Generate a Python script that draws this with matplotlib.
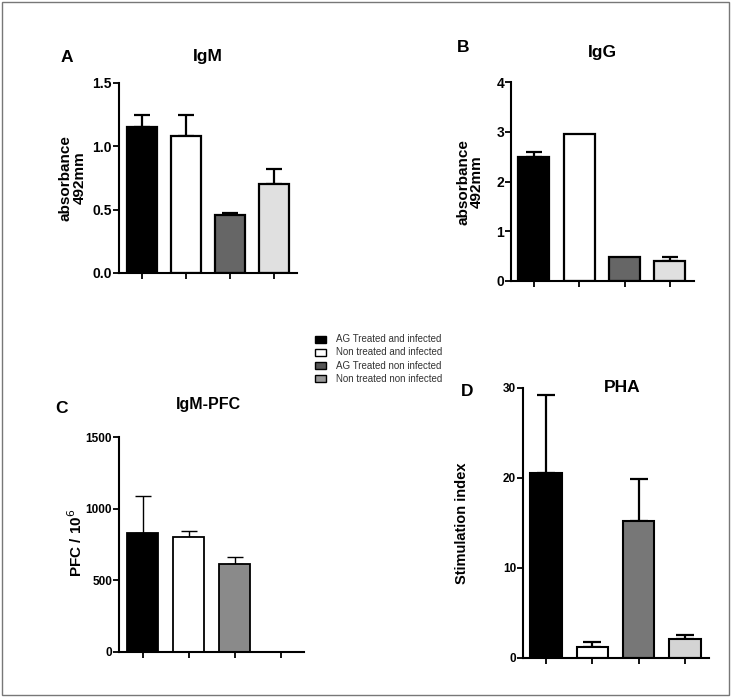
import matplotlib.pyplot as plt
import numpy as np
from matplotlib.patches import Rectangle

plt.rcParams['font.family'] = ['Liberation Sans', 'DejaVu Sans']

groups = ['AG Treated and infected', 'Non treated and infected',
          'AG Treated non infected', 'Non treated non infected']
legend_colors = ['#000000', '#ffffff', '#555555', '#999999']

# panel A - IgM
igm_mean = [1.15, 1.08, 0.46, 0.70]
igm_err = [0.095, 0.17, 0.012, 0.12]
# panel B - IgG
igg_mean = [2.50, 2.96, 0.49, 0.40]
igg_err = [0.10, 0.0, 0.0, 0.08]
# panel C - IgM-PFC (no value for last group)
pfc_mean = [830, 802, 614, None]
pfc_err = [260, 42, 50, None]
# panel D - PHA
pha_mean = [20.6, 1.2, 15.2, 2.1]
pha_err = [8.6, 0.6, 4.7, 0.5]

W, H = 732, 698
fig = plt.figure(figsize=(W / 100, H / 100), dpi=100)


def box(x0, y0, x1, y1):
    # pixel box -> figure fraction
    return [x0 / W, 1 - y1 / H, (x1 - x0) / W, (y1 - y0) / H]


def panel(rect, means, errs, colors, ylim, yticks, yticklabels, xlim,
          lw=1.6, elw=1.6, cap=5.5, tsize=10):
    ax = fig.add_axes(box(*rect))
    x = np.arange(len(means))
    for i, (m, e) in enumerate(zip(means, errs)):
        if m is None:
            continue
        ax.bar(x[i], m, width=0.68, color=colors[i], edgecolor='black',
               linewidth=lw, zorder=2)
        if e:
            ax.errorbar(x[i], m, yerr=[[0], [e]], fmt='none', ecolor='black',
                        elinewidth=elw, capsize=cap, capthick=elw, zorder=1)
    ax.set_xlim(*xlim)
    ax.set_ylim(*ylim)
    ax.set_xticks(x)
    ax.set_xticklabels([])
    ax.set_yticks(yticks)
    ax.set_yticklabels(yticklabels, fontweight='bold', fontsize=tsize)
    for s in ['top', 'right']:
        ax.spines[s].set_visible(False)
    for s in ['left', 'bottom']:
        ax.spines[s].set_linewidth(1.5)
    ax.tick_params(width=1.3, length=4, pad=1)
    ax.patch.set_alpha(0)
    return ax


# A
axA = panel((119, 83, 297, 273), igm_mean, igm_err,
            ['#000000', '#ffffff', '#666666', '#e0e0e0'],
            (0, 1.5), [0, 0.5, 1.0, 1.5], ['0.0', '0.5', '1.0', '1.5'],
            (-0.52, 3.52))
# B
axB = panel((511, 82, 694, 281), igg_mean, igg_err,
            ['#000000', '#ffffff', '#666666', '#e0e0e0'],
            (0, 4), [0, 1, 2, 3, 4], ['0', '1', '2', '3', '4'],
            (-0.5, 3.53))
# C
axC = panel((119, 437, 304, 652), pfc_mean, pfc_err,
            ['#000000', '#ffffff', '#8a8a8a', '#ffffff'],
            (0, 1500), [0, 500, 1000, 1500], ['0', '500', '1000', '1500'],
            (-0.51, 3.5), lw=1.3, elw=1.0, cap=5.5, tsize=8.5)
# D
axD = panel((523, 388, 709, 658), pha_mean, pha_err,
            ['#000000', '#ffffff', '#777777', '#d4d4d4'],
            (0, 30), [0, 10, 20, 30], ['0', '10', '20', '30'],
            (-0.5, 3.52), lw=1.5, elw=1.6, cap=6.5, tsize=8.5)

# titles, panel letters, y labels (figure pixel coords)
def ftext(px, py, s, **kw):
    fig.text(px / W, 1 - py / H, s, ha='center', va='center', **kw)


ftext(67, 58, 'A', fontsize=12.5, fontweight='bold')
ftext(463, 48, 'B', fontsize=12.5, fontweight='bold')
ftext(62, 408, 'C', fontsize=12.5, fontweight='bold')
ftext(467, 392, 'D', fontsize=12.5, fontweight='bold')

ftext(208, 57, 'IgM', fontsize=12.5, fontweight='bold')
ftext(602, 52, 'IgG', fontsize=12.5, fontweight='bold')
ftext(208, 405, 'IgM-PFC', fontsize=11.5, fontweight='bold')
ftext(622, 388, 'PHA', fontsize=12.5, fontweight='bold')

ftext(73, 178, 'absorbance\n492mm', fontsize=11, fontweight='bold',
      rotation=90, linespacing=1.0)
ftext(470, 182, 'absorbance\n492mm', fontsize=11, fontweight='bold',
      rotation=90, linespacing=1.0)
ftext(76, 543, 'PFC / 10$^{6}$', fontsize=11, fontweight='bold', rotation=90)
ftext(462, 523, 'Stimulation index', fontsize=10.5, fontweight='bold',
      rotation=90)

# legend in the middle
lx, ly0, dy = 315, 339, 13.3
for i, (g, c) in enumerate(zip(groups, legend_colors)):
    y = ly0 + i * dy
    fig.patches.append(Rectangle((lx / W, 1 - (y + 3.5) / H), 11 / W, 7 / H,
                                 transform=fig.transFigure, facecolor=c,
                                 edgecolor='black', linewidth=1.0))
    fig.text((lx + 21) / W, 1 - y / H, g, fontsize=7, color='#333333',
             ha='left', va='center')

# outer frame
fig.patches.append(Rectangle((2 / W, 1 - 695 / H), 727 / W, 693 / H,
                             transform=fig.transFigure, fill=False,
                             edgecolor='#777777', linewidth=1.0))

fig.savefig('out.png', dpi=100)
